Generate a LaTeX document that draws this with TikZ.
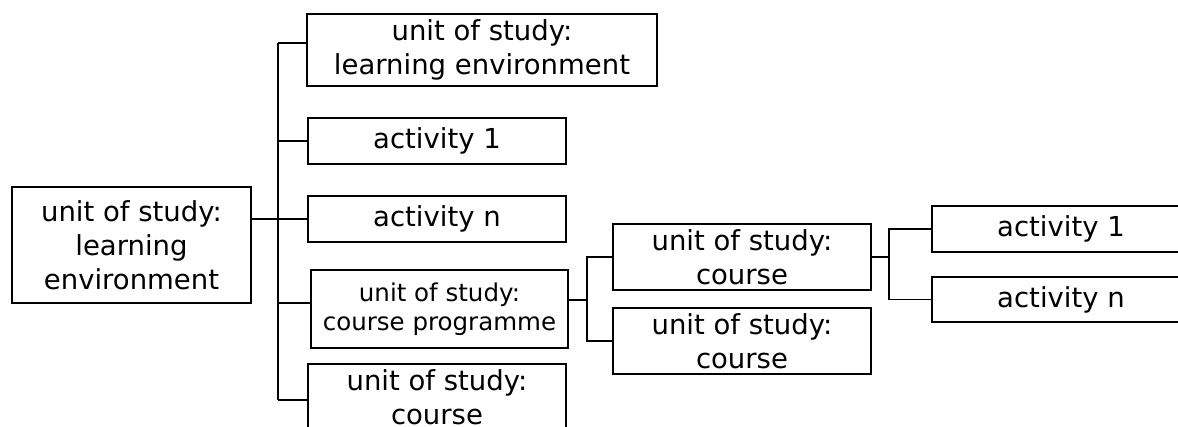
\documentclass[tikz,border=0pt]{standalone}
\usepackage{fontspec}
\setmainfont{DejaVu Sans}
\tikzset{
  box/.style={draw, line width=1.8pt, align=center, inner sep=0pt,
    font=\fontsize{27.5}{34}\selectfont},
  smallbox/.style={box, font=\fontsize{24.5}{29}\selectfont},
  link/.style={line width=1.8pt}
}
\begin{document}
\begin{tikzpicture}[x=1pt,y=-1pt]
\useasboundingbox (0,0) rectangle (1178,426);
\clip (0,0) rectangle (1178,426);
\fill[white] (0,0) rectangle (1178,426);
% nodes
\node[box, minimum width=239pt, minimum height=116pt] (root) at (131.5,245) {unit of study:\\learning\\environment};
\node[box, minimum width=350pt, minimum height=72pt] (le) at (482,50) {unit of study:\\learning environment};
\node[box, minimum width=258pt, minimum height=46pt] (a1) at (437,141) {activity 1};
\node[box, minimum width=258pt, minimum height=46pt] (an) at (437,219) {activity n};
\node[smallbox, minimum width=257pt, minimum height=78pt] (cp) at (439.5,309) {unit of study:\\course programme};
\node[box, minimum width=258pt, minimum height=66pt] (cb) at (437,397) {unit of study:\\course};
\node[box, minimum width=258pt, minimum height=66pt] (c1) at (742,257) {unit of study:\\course};
\node[box, minimum width=258pt, minimum height=66pt] (c2) at (742,341) {unit of study:\\course};
\node[box, minimum width=258pt, minimum height=46pt] (ra1) at (1061,229) {activity 1};
\node[box, minimum width=258pt, minimum height=45pt] (ran) at (1061,299.5) {activity n};
% trunk
\coordinate (tt) at (278,43);
\coordinate (tb) at (278,400);
\draw[link] (tt) -- (tb);
\draw[link] (tt) -- (le.west |- tt);
\draw[link] (tt |- a1.west) -- (a1.west);
\draw[link] (root.east |- an.west) -- (an.west);
\coordinate (tcp) at (278,303);
\draw[link] (tcp) -- (cp.west |- tcp);
\draw[link] (tb) -- (cb.west |- tb);
% course programme subtree
\coordinate (v1) at (587,300);
\draw[link] (cp.east |- v1) -- (v1);
\draw[link] (c1.west) -| (v1) |- (c2.west);
% course subtree
\coordinate (v2) at (889,257);
\draw[link] (c1.east) -- (v2);
\draw[link] (ra1.west) -| (v2) |- (ran.west);
\end{tikzpicture}
\end{document}
